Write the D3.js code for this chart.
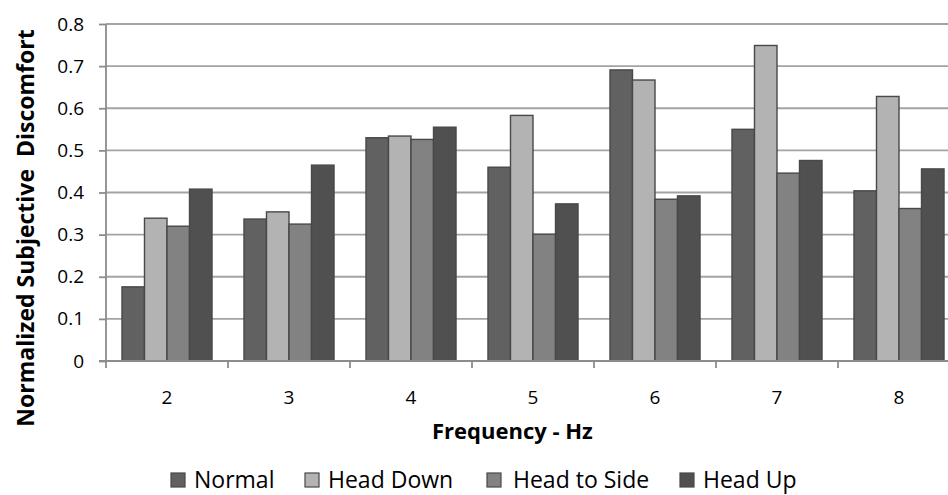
<!DOCTYPE html>
<html>
<head>
<meta charset="utf-8">
<script src="https://cdn.jsdelivr.net/npm/d3@7/dist/d3.min.js"></script>
<style>
  html, body { margin: 0; padding: 0; background: #fff; overflow: hidden; }
  svg { display: block; }
  text { font-family: "Open Sans", "Noto Sans", sans-serif; fill: #000; }
</style>
</head>
<body>
<svg id="chart" width="948" height="495"></svg>
<script>
// Frequency groups (Hz) and the four head postures
const frequencies = ["2", "3", "4", "5", "6", "7", "8"];
const postures = ["Normal", "Head Down", "Head to Side", "Head Up"];

// Normalized subjective discomfort per posture, one value per frequency
const normal     = [0.176, 0.337, 0.530, 0.460, 0.691, 0.550, 0.404];
const headDown   = [0.339, 0.354, 0.534, 0.583, 0.667, 0.749, 0.628];
const headToSide = [0.320, 0.325, 0.526, 0.301, 0.384, 0.446, 0.362];
const headUp     = [0.408, 0.465, 0.555, 0.373, 0.392, 0.476, 0.456];

const yTicks = [0, 0.1, 0.2, 0.3, 0.4, 0.5, 0.6, 0.7, 0.8];

const seriesValues = [normal, headDown, headToSide, headUp];
const fills = ["#616161", "#b3b3b3", "#828282", "#505050"];

const svg = d3.select("#chart");

const plot = { left: 106, right: 960, top: 24, bottom: 361 };

const x0 = d3.scaleBand()
  .domain(frequencies)
  .range([plot.left, plot.right])
  .paddingInner(0.262)
  .paddingOuter(0.131);

const x1 = d3.scaleBand()
  .domain(postures)
  .range([0, x0.bandwidth()]);

const y = d3.scaleLinear()
  .domain([0, 0.8])
  .range([plot.bottom, plot.top]);

// Horizontal gridlines
svg.append("g")
  .selectAll("line")
  .data(yTicks.filter(d => d > 0))
  .join("line")
  .attr("x1", plot.left)
  .attr("x2", plot.right)
  .attr("y1", d => y(d))
  .attr("y2", d => y(d))
  .attr("stroke", "#a3a3a3")
  .attr("stroke-width", 1.8);

// Bars
const rows = frequencies.map((f, i) => ({
  f,
  vals: postures.map((p, j) => ({ p, v: seriesValues[j][i], j }))
}));

svg.append("g")
  .selectAll("g")
  .data(rows)
  .join("g")
  .attr("transform", d => `translate(${x0(d.f)},0)`)
  .selectAll("rect")
  .data(d => d.vals)
  .join("rect")
  .attr("x", d => x1(d.p))
  .attr("width", x1.bandwidth())
  .attr("y", d => y(d.v))
  .attr("height", d => y(0) - y(d.v))
  .attr("fill", d => fills[d.j])
  .attr("stroke", "#484848")
  .attr("stroke-width", 1.4);

// Y axis
const yAxis = d3.axisLeft(y)
  .tickValues(yTicks)
  .tickFormat(d => d === 0 ? "0" : d3.format(".1f")(d))
  .tickSize(7)
  .tickPadding(15);

const gy = svg.append("g")
  .attr("transform", `translate(${plot.left},0)`)
  .call(yAxis);
gy.select(".domain").attr("stroke", "#8c8c8c").attr("stroke-width", 1.8)
  .attr("d", `M0,${plot.top}V${plot.bottom}`);
gy.selectAll(".tick line").attr("stroke", "#8c8c8c").attr("stroke-width", 1.8);
gy.selectAll(".tick text")
  .style("font-size", "19px")
  .style("font-family", "'Open Sans', sans-serif")
  .attr("fill", "#000");

// X axis: ticks sit on category boundaries
const boundaries = frequencies.map(f => x0(f) - x0.step() * x0.paddingInner() / 2);
boundaries.push(plot.right);

const gx = svg.append("g");
gx.append("line")
  .attr("x1", plot.left - 7)
  .attr("x2", plot.right)
  .attr("y1", plot.bottom)
  .attr("y2", plot.bottom)
  .attr("stroke", "#8c8c8c")
  .attr("stroke-width", 1.8);
gx.selectAll("line.tk")
  .data(boundaries)
  .join("line")
  .attr("class", "tk")
  .attr("x1", d => d)
  .attr("x2", d => d)
  .attr("y1", plot.bottom)
  .attr("y2", plot.bottom + 7)
  .attr("stroke", "#8c8c8c")
  .attr("stroke-width", 1.8);
gx.selectAll("text")
  .data(frequencies)
  .join("text")
  .attr("x", d => x0(d) + x0.bandwidth() / 2)
  .attr("y", 404)
  .attr("text-anchor", "middle")
  .style("font-size", "19px")
  .text(d => d);

// Axis titles
svg.append("text")
  .attr("x", 432)
  .attr("y", 439)
  .attr("text-anchor", "start")
  .style("font-size", "22px")
  .style("font-weight", "bold")
  .text("Frequency - Hz");

svg.append("text")
  .attr("transform", "translate(34,228) rotate(-90)")
  .attr("text-anchor", "middle")
  .style("font-size", "23px")
  .style("font-weight", "bold")
  .style("white-space", "pre")
  .attr("xml:space", "preserve")
  .text("Normalized Subjective  Discomfort");

// Legend
const legendSquareX = [171, 305, 487, 680];
const legendTextX = [194, 328, 513, 703];
const legend = svg.append("g")
  .selectAll("g")
  .data(postures)
  .join("g");
legend.append("rect")
  .attr("x", (d, i) => legendSquareX[i])
  .attr("y", 473)
  .attr("width", 14)
  .attr("height", 14)
  .attr("fill", (d, i) => fills[i])
  .attr("stroke", "#484848")
  .attr("stroke-width", 1.2);
legend.append("text")
  .attr("x", (d, i) => legendTextX[i])
  .attr("y", 488)
  .style("font-size", "23px")
  .text(d => d);
</script>
</body>
</html>
